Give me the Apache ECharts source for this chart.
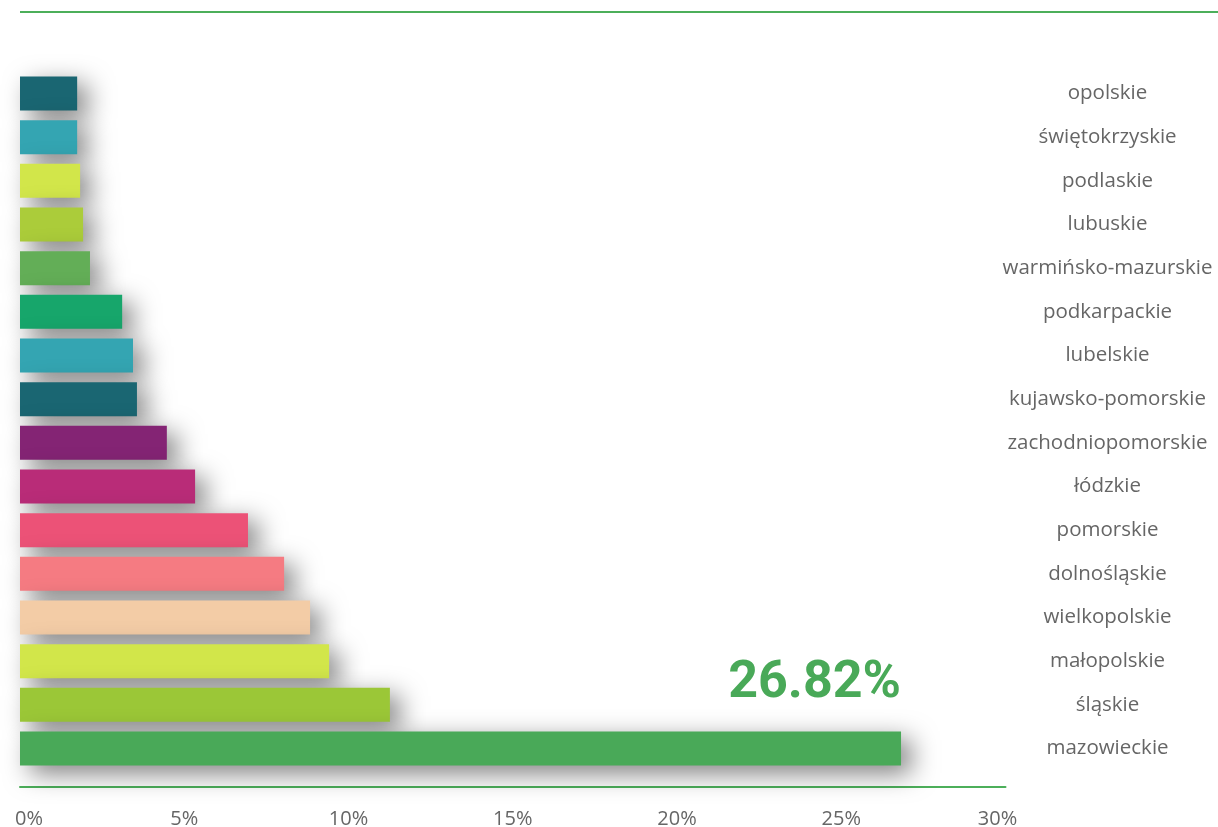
<!DOCTYPE html>
<html>
<head>
<meta charset="utf-8">
<script src="https://cdn.jsdelivr.net/npm/echarts@6/dist/echarts.min.js"></script>
<style>html,body{margin:0;padding:0;background:#fff;}#c{width:1218px;height:827px;}</style>
</head>
<body>
<div id="c"></div>
<script>
const categories = ['opolskie','świętokrzyskie','podlaskie','lubuskie','warmińsko-mazurskie','podkarpackie','lubelskie','kujawsko-pomorskie','zachodniopomorskie','łódzkie','pomorskie','dolnośląskie','wielkopolskie','małopolskie','śląskie','mazowieckie'];
const values = [1.74,1.74,1.83,1.92,2.13,3.11,3.44,3.56,4.47,5.33,6.94,8.04,8.83,9.41,11.26,26.82];
const colors = ['#1a6672','#34a5b2','#d2e64a','#abcc3a','#63ae57','#17a66b','#34a5b2','#1a6672','#842474','#b92c78','#ec5277','#f57b82','#f3cca6','#d2e64a','#9bc737','#49a958'];
const highlightLabel = '26.82%';
const xTicks = {min: 0, max: 30, interval: 5};

const chart = echarts.init(document.getElementById('c'), null, {renderer: 'canvas'});
const data = values.map((v, i) => {
  const item = {value: v, itemStyle: {color: colors[i]}};
  if (i === values.length - 1) {
    item.label = {
      show: true,
      position: ['100%', 0],
      align: 'right',
      verticalAlign: 'bottom',
      offset: [0, -21],
      formatter: highlightLabel,
      fontFamily: 'Roboto',
      fontWeight: 'bold',
      fontSize: 52,
      color: '#49a958'
    };
  }
  return item;
});
chart.setOption({
  animation: false,
  grid: {left: 20, right: 212.5, top: 71.67, bottom: 56.67, containLabel: false, outerBoundsMode: 'none'},
  graphic: [{
    type: 'line', shape: {x1: 20, y1: 12, x2: 1218, y2: 12},
    style: {stroke: '#4caf5a', lineWidth: 2}
  }],
  xAxis: {
    type: 'value', min: xTicks.min, max: xTicks.max, interval: xTicks.interval,
    offset: 16,
    splitLine: {show: false},
    axisTick: {show: false},
    axisLine: {show: true, lineStyle: {color: '#4caf5a', width: 2}},
    axisLabel: {
      margin: 23, color: '#666', fontFamily: 'Open Sans', fontSize: 20,
      formatter: function (v) {
        if (v === 0) return '{a|0%}';
        if (v === 30) return '{b|30%}';
        return v + '%';
      },
      rich: {
        a: {padding: [0, 0, 0, 18], color: '#666', fontFamily: 'Open Sans', fontSize: 20},
        b: {padding: [0, 16, 0, 0], color: '#666', fontFamily: 'Open Sans', fontSize: 20}
      }
    }
  },
  yAxis: {
    type: 'category', data: categories, inverse: true, position: 'right',
    axisLine: {show: false}, axisTick: {show: false}, splitLine: {show: false},
    axisLabel: {align: 'center', margin: 102, color: '#666', fontFamily: 'Open Sans', fontSize: 20.5}
  },
  series: [{
    type: 'bar', data: data, barWidth: 34,
    itemStyle: {shadowColor: 'rgba(0,0,0,0.5)', shadowBlur: 26, shadowOffsetX: 10, shadowOffsetY: 8}
  }]
});
</script>
</body>
</html>
